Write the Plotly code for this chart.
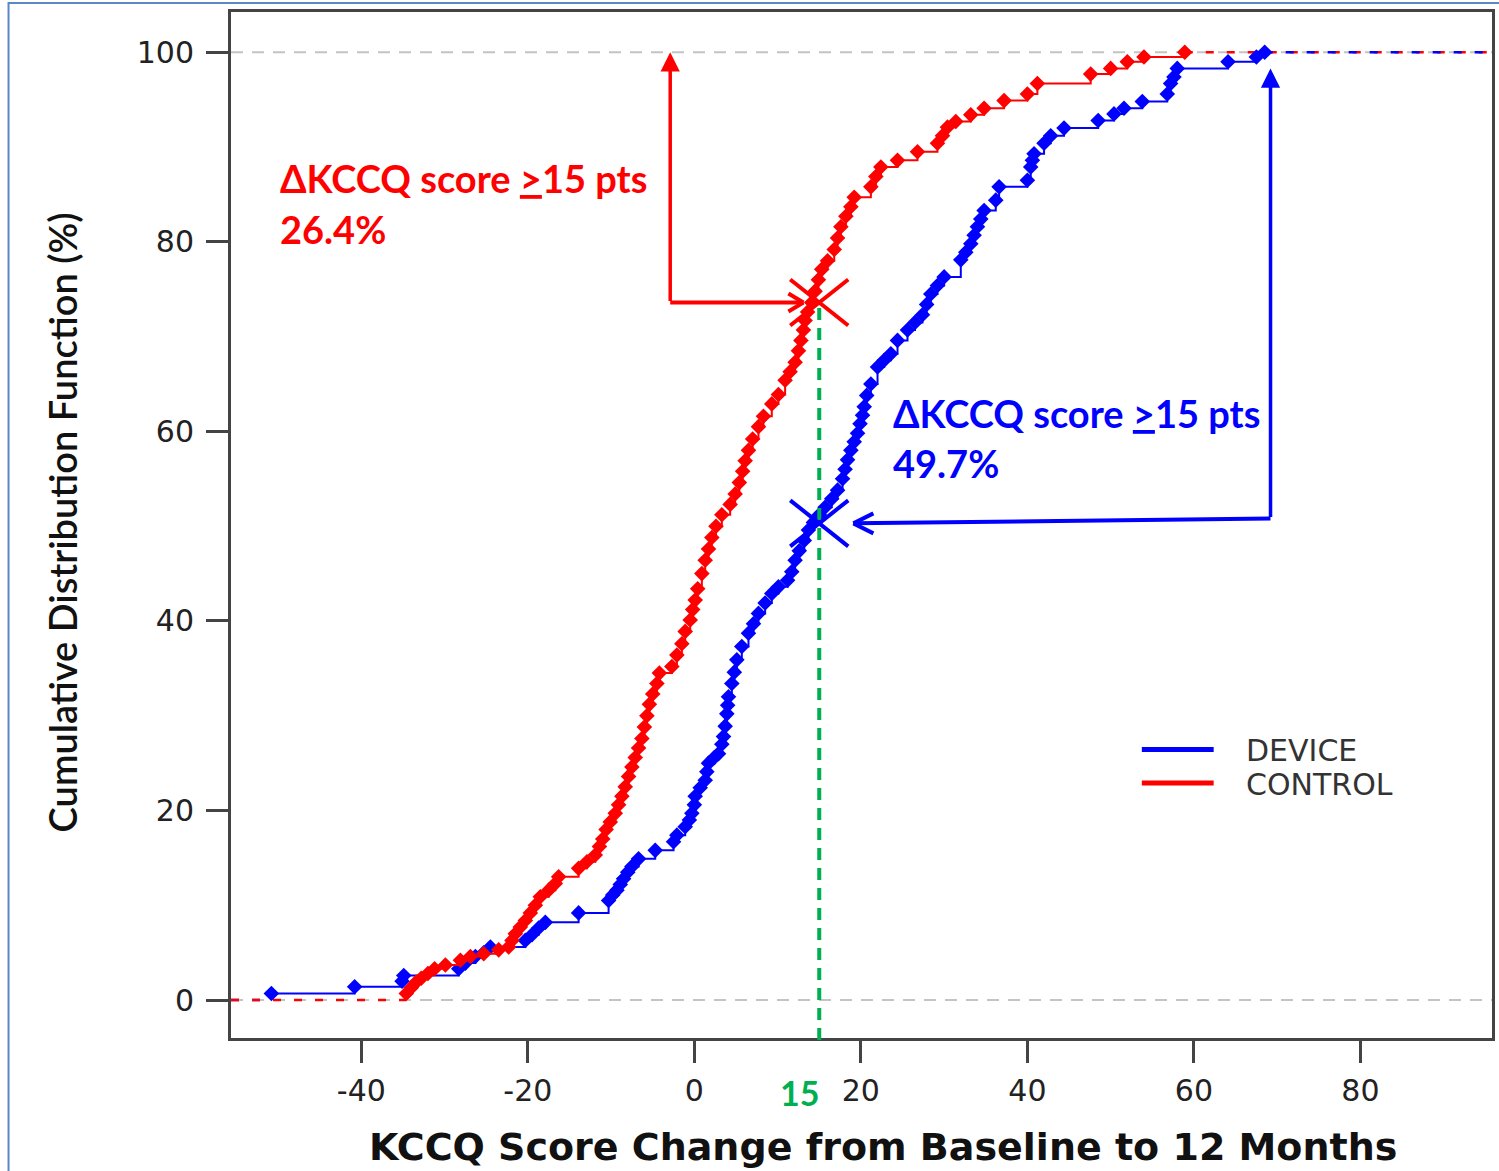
import plotly.graph_objects as go

# KCCQ change (points) and cumulative percentage of patients, DEVICE arm
device_score = [-50.8, -40.8, -35.1, -34.9, -28.3, -27.5, -26.3, -25.3, -24.5, -20.3,
                -19.5, -18.7, -17.9, -13.9, -10.3, -9.8, -9.3, -8.9, -8.5, -8.0,
                -7.5, -6.7, -4.7, -2.5, -2.1, -1.1, -0.6, -0.3, 0.0, 0.1,
                0.7, 1.3, 1.5, 1.7, 2.4, 2.9, 3.3, 3.5, 3.7, 3.9,
                4.0, 4.1, 4.5, 4.8, 5.1, 5.7, 6.5, 7.1, 7.7, 8.5,
                9.3, 10.1, 11.2, 11.7, 12.1, 12.6, 13.2, 13.7, 14.3, 15.0,
                15.7, 16.5, 17.2, 17.8, 18.1, 18.4, 18.8, 19.2, 19.6, 19.9,
                20.2, 20.4, 20.7, 21.2, 22.0, 22.8, 23.6, 24.4, 25.6, 26.5,
                27.4, 27.9, 28.4, 29.2, 30.0, 32.0, 32.6, 33.2, 33.6, 34.0,
                34.4, 34.8, 36.2, 36.6, 40.0, 40.4, 40.6, 40.8, 42.0, 42.8,
                44.4, 48.5, 50.4, 51.6, 53.8, 56.8, 57.2, 57.6, 58.0, 64.1,
                67.5, 68.5]
device_cdf = [0.7, 1.4, 2.0, 2.6, 3.3, 3.9, 4.6, 5.0, 5.6, 6.3,
              6.9, 7.6, 8.2, 9.2, 10.5, 11.1, 11.6, 12.2, 12.8, 13.5,
              14.1, 14.9, 15.8, 16.7, 17.4, 18.3, 19.0, 19.7, 20.6, 21.5,
              22.4, 23.2, 24.1, 25.0, 25.6, 26.0, 27.0, 27.8, 28.9, 30.2,
              31.1, 32.0, 33.4, 34.6, 35.9, 37.3, 38.7, 39.7, 40.8, 41.9,
              42.9, 43.6, 44.3, 45.2, 46.4, 47.4, 48.5, 49.6, 50.4, 51.2,
              52.0, 52.9, 53.8, 55.0, 56.0, 57.0, 58.0, 58.9, 59.8, 60.8,
              61.7, 62.6, 63.8, 65.0, 66.8, 67.5, 68.2, 69.6, 70.7, 71.5,
              72.3, 73.4, 74.5, 75.4, 76.3, 78.1, 78.9, 79.8, 80.7, 81.6,
              82.4, 83.3, 84.4, 85.8, 86.5, 87.9, 88.6, 89.3, 90.4, 91.2,
              92.0, 92.8, 93.5, 94.1, 94.8, 95.6, 96.7, 97.4, 98.3, 99.0,
              99.5, 100.0]

# KCCQ change (points) and cumulative percentage of patients, CONTROL arm
control_score = [-34.6, -34.0, -33.4, -32.8, -32.0, -31.2, -29.9, -28.1, -26.9, -25.3,
                 -23.5, -22.3, -21.9, -21.5, -20.9, -20.3, -19.7, -19.1, -18.5, -17.5,
                 -16.7, -16.3, -13.9, -12.9, -11.9, -11.4, -11.0, -10.6, -10.1, -9.5,
                 -9.1, -8.7, -8.3, -7.9, -7.5, -7.1, -6.7, -6.3, -6.0, -5.7,
                 -5.4, -5.0, -4.5, -4.2, -2.7, -2.1, -1.5, -1.1, -0.5, -0.2,
                 0.1, 0.4, 0.9, 1.3, 1.7, 2.1, 2.6, 3.3, 4.3, 4.9,
                 5.4, 5.8, 6.1, 6.5, 7.0, 7.7, 8.3, 9.3, 10.1, 10.9,
                 11.5, 12.1, 12.5, 12.8, 13.1, 13.3, 13.6, 14.1, 14.5, 14.9,
                 15.3, 16.0, 16.8, 17.2, 17.6, 18.2, 18.8, 19.2, 21.2, 21.8,
                 22.4, 24.4, 26.8, 29.2, 29.8, 30.4, 31.4, 33.2, 34.8, 37.2,
                 40.0, 41.2, 47.6, 50.0, 52.0, 54.0, 58.9]
control_cdf = [0.7, 1.3, 1.9, 2.3, 2.8, 3.3, 3.7, 4.2, 4.6, 4.9,
               5.3, 5.6, 6.3, 7.0, 7.7, 8.4, 9.2, 10.0, 10.9, 11.6,
               12.3, 13.0, 13.9, 14.6, 15.3, 16.2, 17.0, 18.0, 18.8, 19.7,
               20.6, 21.5, 22.5, 23.6, 24.6, 25.6, 26.6, 27.6, 28.8, 30.0,
               31.2, 32.3, 33.4, 34.5, 35.2, 36.4, 37.6, 38.9, 40.1, 41.2,
               42.2, 43.4, 45.0, 46.4, 47.6, 48.8, 50.0, 51.2, 52.3, 53.4,
               54.6, 55.8, 56.9, 58.0, 59.2, 60.5, 61.6, 62.9, 63.9, 65.4,
               66.3, 67.3, 68.5, 69.6, 70.7, 71.7, 72.6, 73.6, 74.8, 76.0,
               77.1, 78.0, 79.2, 80.4, 81.6, 82.7, 83.7, 84.7, 85.8, 86.9,
               87.9, 88.6, 89.5, 90.4, 91.2, 92.1, 92.7, 93.4, 94.1, 94.9,
               95.6, 96.7, 97.7, 98.3, 99.0, 99.5, 100.0]

# Responder threshold and share of patients at or above it
threshold = 15
control_pct_ge = 26.4
device_pct_ge = 49.7

x_ticks = [-40, -20, 0, 20, 40, 60, 80]
x_tick_text = ["-40", "-20", "0", "20", "40", "60", "80"]
y_ticks = [0, 20, 40, 60, 80, 100]
X_MIN, X_MAX = -55.65, 95.8
Y_MIN, Y_MAX = -4.0, 104.25

BLUE = "#0000ff"
RED = "#ff0000"
GREEN = "#00b050"
AXIS = "#444444"

fig = go.Figure()

# flat tails of each ECDF beyond the observed range
for score, color in ((device_score, BLUE), (control_score, RED)):
    fig.add_trace(go.Scatter(x=[X_MIN, score[0]], y=[0, 0], mode="lines",
                             line=dict(color=color, width=2.5, dash="8px,13px"),
                             hoverinfo="skip", showlegend=False))
for score, color in ((control_score, RED), (device_score, BLUE)):
    fig.add_trace(go.Scatter(x=[score[-1], X_MAX], y=[100, 100], mode="lines",
                             line=dict(color=color, width=2.5, dash="8px,13px"),
                             hoverinfo="skip", showlegend=False))

# step curves with a diamond at each observation
for name, score, cdf, color in (("DEVICE", device_score, device_cdf, BLUE),
                                ("CONTROL", control_score, control_cdf, RED)):
    fig.add_trace(go.Scatter(x=score, y=cdf, name=name, mode="lines+markers",
                             line=dict(color=color, width=2, shape="hv"),
                             marker=dict(symbol="diamond", size=12, color=color,
                                         line=dict(width=0)),
                             showlegend=False))

shapes = []
# grey reference lines at 0 % and 100 %
for yv in (0, 100):
    shapes.append(dict(type="line", xref="paper", yref="y", x0=0, x1=1, y0=yv, y1=yv,
                       line=dict(color="#c4c4c4", width=2, dash="12px,9px"), layer="below"))

ctrl_y = 100 - control_pct_ge
dev_y = 100 - device_pct_ge

# threshold line
shapes.append(dict(type="line", xref="x", yref="paper", x0=threshold, x1=threshold,
                   y0=-0.002, y1=(ctrl_y - Y_MIN) / (Y_MAX - Y_MIN),
                   line=dict(color=GREEN, width=4, dash="12px,8px")))


def cross(xc, yc, color):
    for sy in (1, -1):
        shapes.append(dict(type="line", xref="x", yref="y", xsizemode="pixel",
                           ysizemode="pixel", xanchor=xc, yanchor=yc,
                           x0=-29, x1=29, y0=23 * sy, y1=-23 * sy,
                           line=dict(color=color, width=4)))


def chevron(xc, yc, dx, dy, color):
    for sy in (1, -1):
        shapes.append(dict(type="line", xref="x", yref="y", xsizemode="pixel",
                           ysizemode="pixel", xanchor=xc, yanchor=yc,
                           x0=0, x1=dx, y0=0, y1=dy * sy,
                           line=dict(color=color, width=4)))


cross(threshold, ctrl_y, RED)
cross(threshold, dev_y, BLUE)

# elbow arrows
red_arrow_x = -2.9
red_tip_x = threshold - 1.9
blue_arrow_x = 69.2
blue_tip_x = threshold + 4.1
shapes.append(dict(type="line", xref="x", yref="y", x0=red_arrow_x, x1=red_tip_x,
                   y0=ctrl_y, y1=ctrl_y, line=dict(color=RED, width=4)))
chevron(red_tip_x, ctrl_y, -15, 9, RED)
shapes.append(dict(type="line", xref="x", yref="y", x0=blue_arrow_x, x1=blue_tip_x,
                   y0=dev_y + 0.5, y1=dev_y, line=dict(color=BLUE, width=4)))
chevron(blue_tip_x, dev_y, 20, 10, BLUE)


def px_x(p):
    return (p - 231) / 1264


def px_y(p):
    return (1038 - p) / 1026


# legend drawn by hand
for ypx, color in ((749.5, BLUE), (783, RED)):
    shapes.append(dict(type="line", xref="paper", yref="paper", x0=px_x(1144), x1=px_x(1216),
                       y0=px_y(ypx), y1=px_y(ypx), line=dict(color=color, width=5)))

# outer frame
shapes.append(dict(type="rect", xref="paper", yref="paper", x0=px_x(8), x1=px_x(1530),
                   y0=px_y(1200), y1=px_y(3), line=dict(color="#5b87c5", width=2),
                   fillcolor="rgba(0,0,0,0)", layer="below"))

annotations = [
    dict(x=red_arrow_x, y=100, ax=red_arrow_x, ay=ctrl_y, xref="x", yref="y",
         axref="x", ayref="y", text="", showarrow=True, arrowhead=2, arrowsize=1.1,
         arrowwidth=3.5, arrowcolor=RED, standoff=0, startstandoff=0),
    dict(x=blue_arrow_x, y=98.3, ax=blue_arrow_x, ay=dev_y + 0.5, xref="x", yref="y",
         axref="x", ayref="y", text="", showarrow=True, arrowhead=2, arrowsize=1.1,
         arrowwidth=3.5, arrowcolor=BLUE, standoff=0, startstandoff=0),
    dict(x=px_x(278), y=px_y(178), xref="paper", yref="paper", xanchor="left", yanchor="middle",
         text="ΔKCCQ score <u>&gt;</u>15 pts", showarrow=False,
         font=dict(family="Lato", size=38, color=RED, weight="bold")),
    dict(x=px_x(278), y=px_y(229), xref="paper", yref="paper", xanchor="left", yanchor="middle",
         text=f"{control_pct_ge}%", showarrow=False,
         font=dict(family="Lato", size=38, color=RED, weight="bold")),
    dict(x=px_x(893), y=px_y(413), xref="paper", yref="paper", xanchor="left", yanchor="middle",
         text="ΔKCCQ score <u>&gt;</u>15 pts", showarrow=False,
         font=dict(family="Lato", size=38, color=BLUE, weight="bold")),
    dict(x=px_x(893), y=px_y(463), xref="paper", yref="paper", xanchor="left", yanchor="middle",
         text=f"{device_pct_ge}%", showarrow=False,
         font=dict(family="Lato", size=38, color=BLUE, weight="bold")),
    dict(x=threshold, y=px_y(1092), xref="x", yref="paper", xanchor="right", yanchor="middle",
         xshift=2, text=str(threshold), showarrow=False,
         font=dict(family="Lato", size=34, color=GREEN, weight="bold")),
    dict(x=px_x(1246), y=px_y(750), xref="paper", yref="paper", xanchor="left", yanchor="middle",
         text="DEVICE", showarrow=False,
         font=dict(family="DejaVu Sans", size=30, color="#333333")),
    dict(x=px_x(1246), y=px_y(784), xref="paper", yref="paper", xanchor="left", yanchor="middle",
         text="CONTROL", showarrow=False,
         font=dict(family="DejaVu Sans", size=30, color="#333333")),
    dict(x=px_x(62), y=px_y(522), xref="paper", yref="paper", xanchor="center", yanchor="middle",
         textangle=-90, text="Cumulative Distribution Function (%)", showarrow=False,
         font=dict(family="Lato", size=38, color="#111111", weight=600)),
    dict(x=px_x(885), y=px_y(1147), xref="paper", yref="paper", xanchor="center", yanchor="middle",
         text="KCCQ Score Change from Baseline to 12 Months", showarrow=False,
         font=dict(family="DejaVu Sans", size=38, color="#111111", weight="bold")),
]

axis_common = dict(showline=True, linecolor=AXIS, linewidth=3, mirror=True,
                   ticks="outside", ticklen=22, tickwidth=3, tickcolor=AXIS,
                   showgrid=False, zeroline=False,
                   tickfont=dict(family="DejaVu Sans", size=30, color="#222222"))

fig.update_layout(
    width=1499, height=1171,
    margin=dict(l=231, r=4, t=12, b=133),
    plot_bgcolor="white", paper_bgcolor="white",
    xaxis=dict(range=[X_MIN, X_MAX], tickvals=x_ticks, ticktext=x_tick_text,
               ticklabelstandoff=2, **axis_common),
    yaxis=dict(range=[Y_MIN, Y_MAX], tickvals=y_ticks, ticklabelstandoff=6, **axis_common),
    shapes=shapes, annotations=annotations, showlegend=False,
)

fig.write_html("out.html")
